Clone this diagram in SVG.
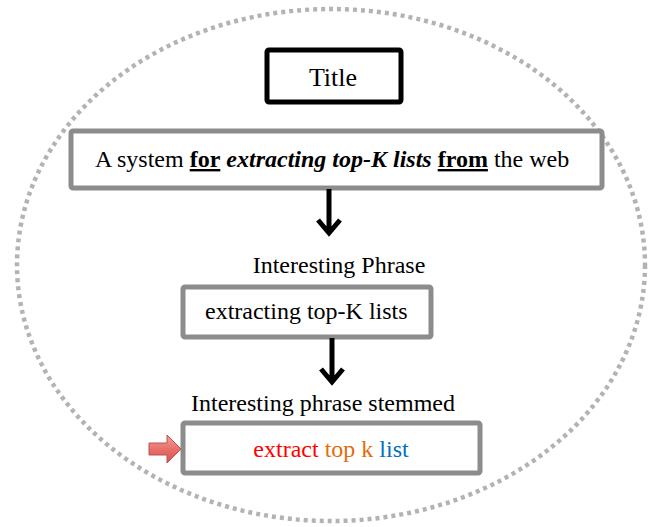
<svg xmlns="http://www.w3.org/2000/svg" width="650" height="527" viewBox="0 0 650 527">
<defs>
<style>
text{font-family:'Liberation Serif','Times New Roman','DejaVu Serif',serif;font-size:24px;fill:#000}
.box{fill:#fff;stroke:#8c8c8c;stroke-width:5}
.arr{stroke:#000;stroke-width:5;fill:none}
</style>
<linearGradient id="rg" x1="0" y1="0" x2="0" y2="1">
<stop offset="0" stop-color="#f4a09c"/>
<stop offset="0.5" stop-color="#e8706b"/>
<stop offset="1" stop-color="#d9534f"/>
</linearGradient>
</defs>
<rect width="650" height="527" fill="#fff"/>
<ellipse cx="331" cy="265" rx="314" ry="256" fill="none" stroke="#b3b3b3" stroke-width="4.5" stroke-dasharray="4 4"/>
<g id="title">
<rect x="267" y="50" width="134" height="52" rx="2" fill="#fff" stroke="#000" stroke-width="5"/>
<text x="333" y="86" text-anchor="middle" font-size="26" style="font-size:26px">Title</text>
</g>
<g id="sentence">
<rect class="box" x="71" y="131" width="531" height="57" rx="2"/>
<text x="95" y="167">A system <tspan font-weight="bold" text-decoration="underline">for</tspan> <tspan font-weight="bold" font-style="italic">extracting top-K lists</tspan> <tspan font-weight="bold" text-decoration="underline">from</tspan> the web</text>
</g>
<g id="phrase">
<text x="339" y="273" text-anchor="middle">Interesting Phrase</text>
<rect class="box" x="183" y="287" width="248" height="50" rx="2"/>
<text x="205" y="319">extracting top-K lists</text>
</g>
<g id="stemmed">
<text x="323" y="411" text-anchor="middle">Interesting phrase stemmed</text>
<rect class="box" x="183" y="423" width="297" height="50" rx="2"/>
<text x="331" y="457" text-anchor="middle"><tspan fill="#ff0000">extract</tspan> <tspan fill="#e46c0a">top k</tspan> <tspan fill="#0070c0">list</tspan></text>
</g>
<g id="connectors">
<path class="arr" d="M329 189 V233 M318 220 L329 233 L340 220"/>
<path class="arr" d="M332 338 V382 M321 369 L332 382 L343 369"/>
<path d="M149 443 H167 V435 L181 449 L167 463 V455 H149 Z" fill="url(#rg)" stroke="#c0504d" stroke-width="1"/>
</g>
</svg>
